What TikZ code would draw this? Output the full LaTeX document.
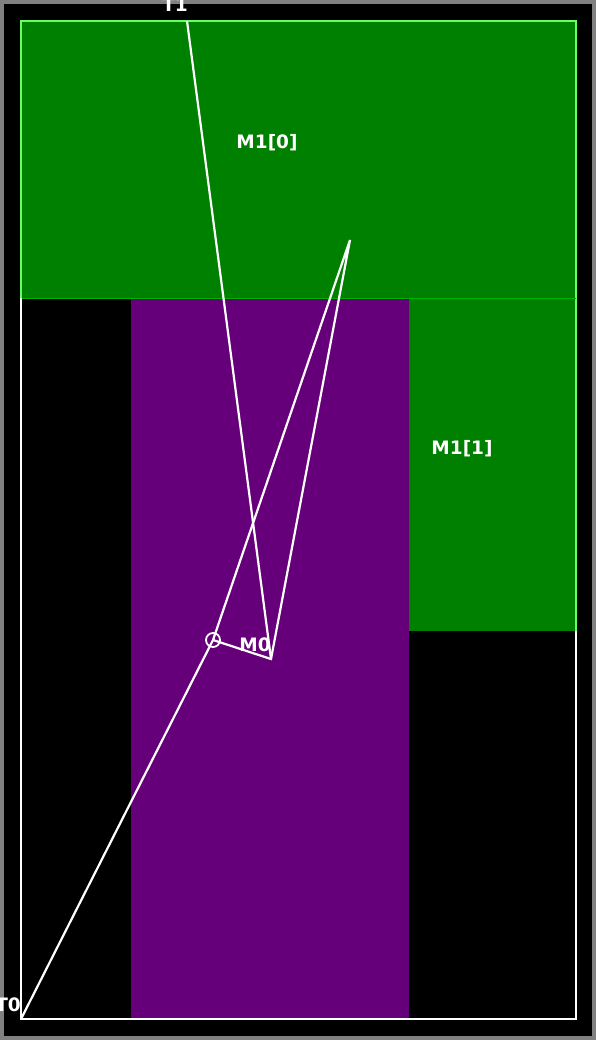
\documentclass[tikz,border=0pt]{standalone}
\usepackage{fontspec}
\setmainfont{DejaVu Sans}
\usepackage{tikz}
\usetikzlibrary{positioning}
\definecolor{frame_gray}{RGB}{128,128,128}
\definecolor{mem_green}{RGB}{0,128,0}
\definecolor{mem_edge}{RGB}{102,255,102}
\definecolor{mem_purple}{RGB}{102,0,122}
\definecolor{purple_edge}{RGB}{224,102,255}
\begin{document}
\begin{tikzpicture}[x=1pt, y=-1pt,
          lbl/.style={text=white, inner sep=0pt, font=\bfseries\fontsize{18.5}{20}\selectfont},
          wire/.style={white, line width=2.2pt},
          pin/.style={circle, draw=white, line width=1.8pt, minimum size=14pt, inner sep=0pt}]
        \useasboundingbox (0,0) rectangle (596,1040);
        \fill[frame_gray] (0,0) rectangle (596,1040);
        \fill[black] (4,4) rectangle (592,1036);
        % memory blocks
        \fill[mem_purple] (131,298) rectangle (409,1019);
        \draw[purple_edge, line width=2pt] (131,1019) -- (409,1019);
        \fill[mem_green] (409,298) rectangle (576,631);
        \draw[mem_edge, line width=2pt] (576,298) -- (576,631);
        \fill[mem_green] (21,21) rectangle (576,298);
        \draw[mem_edge, line width=2pt] (21,298) -- (21,21) -- (576,21) -- (576,298);
        \draw[green!70!black, line width=1pt] (21,298) -- (576,298);
        \draw[white, line width=2pt] (21,298) -- (21,1019) -- (576,1019) -- (576,631);
        % points
        \coordinate (t1) at (187,21);
        \coordinate (t0) at (21,1019);
        \coordinate (apex) at (350,240);
        \coordinate (foot) at (271,659);
        \node[pin] (m0) at (213,640) {};
        \draw[wire] (t0) -- (m0.center) -- (apex) -- (foot) -- (m0.center);
        \draw[wire] (t1) -- (foot);
        % labels
        \node[lbl] (t1lbl) at (175,5) {T1};
        \node[lbl] (t0lbl) at (8,1005) {T0};
        \node[lbl] (m0lbl) at (255,645) {M0};
        \node[lbl] (m10lbl) at (267,143) {M1[0]};
        \node[lbl] (m11lbl) at (462,449) {M1[1]};
      \end{tikzpicture}
\end{document}
